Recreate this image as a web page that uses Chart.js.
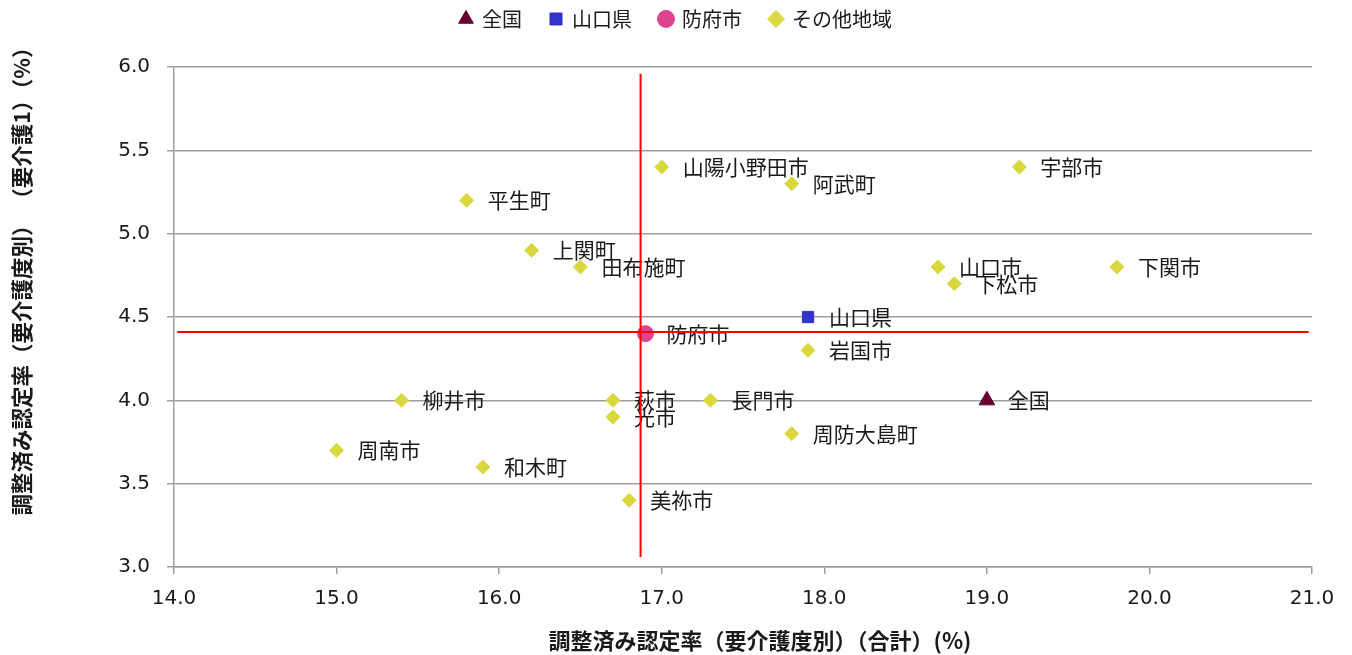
<!DOCTYPE html>
<html>
<head>
<meta charset="utf-8">
<script src="https://cdn.jsdelivr.net/npm/chart.js@4.4.1/dist/chart.umd.min.js"></script>
<style>
  html, body { margin: 0; padding: 0; background: #fff; }
  #wrap { width: 1352px; height: 655px; }
</style>
</head>
<body>
<div id="wrap"><canvas id="scatter"></canvas></div>
<script>
// --- data ---
const zenkokuX = [19.0], zenkokuY = [4.0]
const kenX = [17.9], kenY = [4.5]
const hofuX = [16.9], hofuY = [4.4]

const otherNames = ['宇部市', '山陽小野田市', '阿武町', '平生町', '上関町', '田布施町', '山口市', '下関市', '下松市',
  '岩国市', '柳井市', '萩市', '長門市', '光市', '周防大島町', '周南市', '和木町', '美祢市']
const otherX = [19.2, 17.0, 17.8, 15.8, 16.2, 16.5, 18.7, 19.8, 18.8,
  17.9, 15.4, 16.7, 17.3, 16.7, 17.8, 15.0, 15.9, 16.8]
const otherY = [5.4, 5.4, 5.3, 5.2, 4.9, 4.8, 4.8, 4.8, 4.7,
  4.3, 4.0, 4.0, 4.0, 3.9, 3.8, 3.7, 3.6, 3.4]

// red reference lines (Hofu values)
const vLineX = [16.87, 16.87], vLineY = [3.06, 5.96]
const hLineX = [14.02, 20.98], hLineY = [4.41, 4.41]

const xTicks = [14, 15, 16, 17, 18, 19, 20, 21]
const yTicks = [3.0, 3.5, 4.0, 4.5, 5.0, 5.5, 6.0]

const xTitle = '調整済み認定率（要介護度別）（合計）(%)'
const yTitle = '調整済み認定率（要介護度別） （要介護1）（%）'

const toPts = (xs, ys) => xs.map((x, i) => ({ x, y: ys[i] }))

const NUM_FONT = '"DejaVu Sans", Verdana, sans-serif'
const JP_FONT = '"Noto Sans CJK JP", "Noto Sans", sans-serif'
const LAYOUT_TOP = -19
const PLOT_TOP = 67

// point labels, drawn to the right of each marker
const pointLabels = {
  id: 'pointLabels',
  beforeDatasetsDraw(chart) {
    const { ctx } = chart
    ctx.save()
    ctx.font = '21px ' + JP_FONT
    ctx.fillStyle = '#1a1a1a'
    ctx.textBaseline = 'middle'
    chart.data.datasets.forEach((ds, i) => {
      if (!ds.names) return
      chart.getDatasetMeta(i).data.forEach((el, j) => {
        ctx.fillText(ds.names[j], el.x + 21, el.y)
      })
    })
    ctx.restore()
  }
}

// axis titles: the original sits them a bit off the axis centre
const axisTitles = {
  id: 'axisTitles',
  afterDraw(chart) {
    const { ctx } = chart
    ctx.save()
    ctx.fillStyle = '#1a1a1a'
    ctx.textAlign = 'center'
    ctx.textBaseline = 'middle'
    ctx.font = 'bold 22px ' + JP_FONT
    ctx.fillText(xTitle, 760, 641)
    ctx.translate(22, 276)
    ctx.rotate(-Math.PI / 2)
    ctx.font = 'bold 21.5px ' + JP_FONT
    ctx.fillText(yTitle, 0, 0)
    ctx.restore()
  }
}

// legend box tall enough so the plot starts where it does in the picture,
// and centred on the whole canvas
const legendBox = {
  id: 'legendBox',
  beforeInit(chart) {
    const fit = chart.legend.fit
    chart.legend.fit = function () {
      fit.bind(chart.legend)()
      this.height = PLOT_TOP - LAYOUT_TOP
    }
  },
  beforeDraw(chart) {
    const lg = chart.legend
    if (!lg._shifted) {
      lg.left += 20
      lg.right += 20
      lg._shifted = true
    }
  }
}

const ctx = document.getElementById('scatter').getContext('2d')
new Chart(ctx, {
  type: 'scatter',
  data: {
    datasets: [
      { label: '全国', data: toPts(zenkokuX, zenkokuY), names: ['全国'], pointStyle: 'triangle', radius: 9,
        backgroundColor: '#660033', borderColor: '#660033', order: 2 },
      { label: '山口県', data: toPts(kenX, kenY), names: ['山口県'], pointStyle: 'rect', radius: 8,
        backgroundColor: '#3333cc', borderColor: '#3333cc', order: 2 },
      { label: '防府市', data: toPts(hofuX, hofuY), names: ['防府市'], pointStyle: 'circle', radius: 8,
        backgroundColor: '#dd4490', borderColor: '#dd4490', order: 2 },
      { label: 'その他地域', data: toPts(otherX, otherY), names: otherNames, pointStyle: 'rectRot', radius: 7,
        backgroundColor: '#d9d83c', borderColor: '#d9d83c', order: 3 },
      { label: 'vline', data: toPts(vLineX, vLineY), showLine: true, borderColor: '#ff0000', borderWidth: 2,
        pointRadius: 0, order: 0 },
      { label: 'hline', data: toPts(hLineX, hLineY), showLine: true, borderColor: '#ff0000', borderWidth: 2,
        pointRadius: 0, order: 0 }
    ]
  },
  options: {
    responsive: true,
    maintainAspectRatio: false,
    animation: false,
    layout: { padding: { left: 0, right: 40, top: LAYOUT_TOP, bottom: 0 } },
    plugins: {
      tooltip: { enabled: false },
      legend: {
        position: 'top',
        labels: {
          usePointStyle: true,
          boxWidth: 12,
          boxHeight: 12,
          padding: 28,
          color: '#1a1a1a',
          font: { family: JP_FONT, size: 20 },
          filter: item => item.text !== 'vline' && item.text !== 'hline'
        }
      }
    },
    scales: {
      x: {
        type: 'linear',
        min: 14, max: 21,
        afterBuildTicks: s => { s.ticks = xTicks.map(v => ({ value: v })) },
        afterFit: s => { s.height = 88 },
        grid: { drawOnChartArea: false, drawTicks: true, tickLength: 7, color: '#9e9e9e', lineWidth: 1.5 },
        border: { display: true, color: '#9e9e9e', width: 1.5 },
        ticks: { padding: 13, color: '#1a1a1a', font: { family: NUM_FONT, size: 20 }, callback: v => v.toFixed(1) },
        title: { display: false }
      },
      y: {
        type: 'linear',
        min: 3, max: 6,
        afterBuildTicks: s => { s.ticks = yTicks.map(v => ({ value: v })) },
        afterFit: s => { s.width = 174 },
        grid: { drawOnChartArea: true, drawTicks: true, tickLength: 7, color: '#9e9e9e', lineWidth: 1.5 },
        border: { display: true, color: '#9e9e9e', width: 1.5 },
        ticks: { padding: 17, color: '#1a1a1a', font: { family: NUM_FONT, size: 20 }, callback: v => v.toFixed(1) },
        title: { display: false }
      }
    }
  },
  plugins: [pointLabels, axisTitles, legendBox]
})
</script>
</body>
</html>
